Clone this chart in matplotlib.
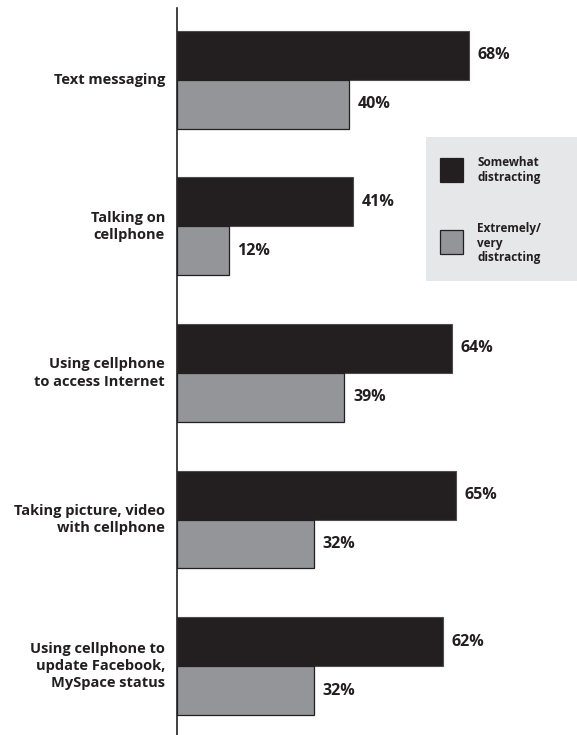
import matplotlib.pyplot as plt
from matplotlib.patches import Rectangle

# survey categories and shares (percent)
activities = ["Text messaging", "Talking on\ncellphone", "Using cellphone\nto access Internet",
              "Taking picture, video\nwith cellphone", "Using cellphone to\nupdate Facebook,\nMySpace status"]
somewhat = [68, 41, 64, 65, 62]
extremely = [40, 12, 39, 32, 32]
series_names = ["Somewhat\ndistracting", "Extremely/\nvery\ndistracting"]

DARK = '#231f20'
GRAY = '#939598'
FONT = 'Open Sans'

W, H = 577, 735
fig = plt.figure(figsize=(W / 100, H / 100), dpi=100)
ax = fig.add_axes([177 / W, 0, 1 - 177 / W, 1 - 8 / H])

bar_h = 0.334
ys = list(range(len(activities)))
ax.barh([y - bar_h / 2 for y in ys], somewhat, height=bar_h, color=DARK,
        edgecolor='#4d4d4f', linewidth=0.8)
ax.barh([y + bar_h / 2 for y in ys], extremely, height=bar_h, color=GRAY,
        edgecolor=DARK, linewidth=0.9)

for y, a, b, name in zip(ys, somewhat, extremely, activities):
    ax.text(a + 2.0, y - bar_h / 2, f"{a}%", va='center', ha='left',
            fontsize=11.5, fontweight='bold', family=FONT, color=DARK)
    ax.text(b + 2.0, y + bar_h / 2, f"{b}%", va='center', ha='left',
            fontsize=11.5, fontweight='bold', family=FONT, color=DARK)
    ax.text(-2.8, y, name, va='center', ha='right',
            fontsize=10.5, fontweight='bold', family=FONT, color=DARK,
            linespacing=1.3)

ax.set_xlim(0, 93.2)
ax.set_ylim(4.47, -0.49)
for side in ['top', 'right', 'bottom']:
    ax.spines[side].set_visible(False)
ax.spines['left'].set_color(DARK)
ax.spines['left'].set_linewidth(1.2)
ax.set_xticks([])
ax.set_yticks([])

# legend panel
fig.add_artist(Rectangle((426 / W, 1 - 281 / H), 151 / W, 144 / H,
                         transform=fig.transFigure, facecolor='#e6e7e8', edgecolor='none'))
for top, color in [(158, DARK), (230, GRAY)]:
    fig.add_artist(Rectangle((440 / W, 1 - (top + 24) / H), 23 / W, 24 / H,
                             transform=fig.transFigure, facecolor=color,
                             edgecolor=DARK, linewidth=0.9))
for y_px, name in zip([170, 243], series_names):
    fig.text(477 / W, 1 - y_px / H, name, va='center', ha='left', fontsize=8.5,
             fontweight='bold', family=FONT, color=DARK, linespacing=1.15)

fig.savefig('out.png', dpi=100)
